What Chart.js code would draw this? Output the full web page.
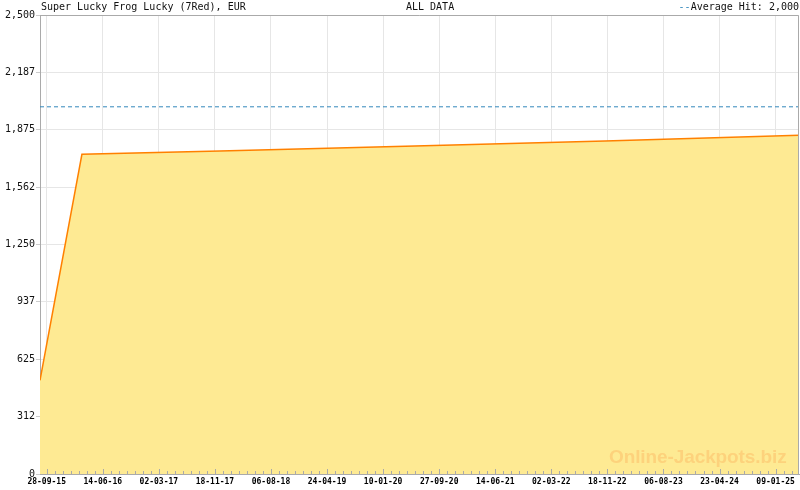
<!DOCTYPE html>
<html>
<head>
<meta charset="utf-8">
<script src="https://cdn.jsdelivr.net/npm/chart.js@4/dist/chart.umd.min.js"></script>
<style>
  html, body { margin: 0; padding: 0; background: #fff; }
  #wrap { position: relative; width: 800px; height: 490px; }
  canvas { position: absolute; left: 0; top: 0; }
  .txt { position: absolute; font-family: "DejaVu Sans Mono", monospace; font-size: 10px; color: #111; line-height: 12px; white-space: nowrap; }
  #wm { position: absolute; left: 609px; top: 447px; font-family: "Liberation Sans", Arial, sans-serif; font-weight: bold; font-size: 19px; line-height: 19px; color: #fdd27c; white-space: nowrap; letter-spacing: -0.1px; }
</style>
</head>
<body>
<div id="wrap">
  <canvas id="c" width="800" height="490"></canvas>
  <div class="txt" style="left:41px; top:1px;">Super Lucky Frog Lucky (7Red), EUR</div>
  <div class="txt" style="left:406px; top:1px;">ALL DATA</div>
  <div class="txt" style="right:1px; top:1px;"><span style="color:#3388bb">--</span>Average Hit: 2,000</div>
  <div id="wm">Online-Jackpots.biz</div>
</div>
<script>
// ---- data ----
const dates  = ['2015-08-28', '2016-03-10', '2017-12-12', '2020-06-06', '2022-11-07', '2025-04-28'];
const values = [510, 1741, 1759, 1786, 1814, 1845];
const averageHit = 2000;
const firstTickDate = '2015-09-28';
const lastTickDate  = '2025-01-09';
const majorTickCount = 13;   // intervals between labelled ticks
const minorPerMajor = 7;
const yTicks = [0, 312.5, 625, 937.5, 1250, 1562.5, 1875, 2187.5, 2500];

const DAY = 86400000;
const toMs = s => Date.parse(s + 'T00:00:00Z');
const xs = dates.map(toMs);
const points = xs.map((x, i) => ({ x: x, y: values[i] }));
const xMin = xs[0], xMax = xs[xs.length - 1];
const t0 = toMs(firstTickDate) + 0.12 * DAY, t1 = toMs(lastTickDate) + 0.12 * DAY;
const majorStep = (t1 - t0) / majorTickCount;
const minorStep = majorStep / minorPerMajor;

function fmtDate(ms) {
  const d = new Date(ms);
  const p = n => String(n).padStart(2, '0');
  return p(d.getUTCDate()) + '-' + p(d.getUTCMonth() + 1) + '-' + p(d.getUTCFullYear() % 100);
}

const frame = {
  id: 'frame',
  afterDatasetsDraw(chart) {
    const ctx = chart.ctx, a = chart.chartArea, sx = chart.scales.x;
    ctx.save();
    ctx.strokeStyle = '#aaaaaa';
    ctx.lineWidth = 1;
    ctx.beginPath();
    sx.ticks.forEach(t => {
      const px = Math.round(sx.getPixelForValue(t.value)) + 0.5;
      const len = t.major ? 5 : 3;
      ctx.moveTo(px, a.bottom);
      ctx.lineTo(px, a.bottom - len);
    });
    ctx.stroke();
    ctx.beginPath();
    ctx.moveTo(a.left + 0.5, a.top + 0.5);
    ctx.lineTo(a.right - 0.5, a.top + 0.5);
    ctx.lineTo(a.right - 0.5, a.bottom);
    ctx.stroke();
    ctx.restore();
  }
};

new Chart(document.getElementById('c'), {
  type: 'line',
  data: {
    datasets: [
      {
        data: points,
        borderColor: '#ff8000',
        borderWidth: 1.5,
        backgroundColor: '#feea93',
        fill: 'origin',
        pointRadius: 0,
        tension: 0
      },
      {
        data: [{ x: xMin, y: averageHit }, { x: xMax, y: averageHit }],
        borderColor: '#3388bb',
        borderWidth: 1,
        borderDash: [4, 3],
        fill: false,
        pointRadius: 0
      }
    ]
  },
  options: {
    responsive: false,
    animation: false,
    devicePixelRatio: 1,
    layout: { padding: { top: 15, right: 1, left: 0, bottom: 0 } },
    plugins: { legend: { display: false }, tooltip: { enabled: false }, title: { display: false } },
    scales: {
      x: {
        type: 'linear',
        min: xMin,
        max: xMax,
        afterBuildTicks(scale) {
          const ticks = [];
          for (let k = 0; ; k++) {
            const v = t0 + k * minorStep;
            if (v > xMax) break;
            ticks.push({ value: v, major: k % minorPerMajor === 0 });
          }
          scale.ticks = ticks;
        },
        afterFit(scale) { scale.height = 16; },
        grid: {
          drawTicks: false,
          color: c => (c.tick && c.tick.major) ? '#e6e6e6' : 'rgba(0,0,0,0)',
          lineWidth: 1
        },
        border: { display: true, color: '#aaaaaa', width: 1 },
        ticks: {
          autoSkip: false,
          maxRotation: 0,
          padding: 3,
          color: '#000',
          font: { family: 'DejaVu Sans Mono', size: 8, weight: 'bold' },
          callback: function (v, i, ticks) {
            return ticks[i].major ? fmtDate(v) : '';
          }
        }
      },
      y: {
        min: 0,
        max: 2500,
        afterBuildTicks(scale) { scale.ticks = yTicks.map(v => ({ value: v })); },
        afterFit(scale) { scale.width = 40; },
        grid: { color: '#e6e6e6', tickColor: '#cccccc', tickLength: 4, lineWidth: 1 },
        border: { display: true, color: '#aaaaaa', width: 1 },
        ticks: {
          padding: 1,
          color: '#111',
          font: { family: 'DejaVu Sans Mono', size: 10 },
          callback: v => Math.floor(v).toLocaleString('en-US')
        }
      }
    }
  },
  plugins: [frame]
});
</script>
</body>
</html>
